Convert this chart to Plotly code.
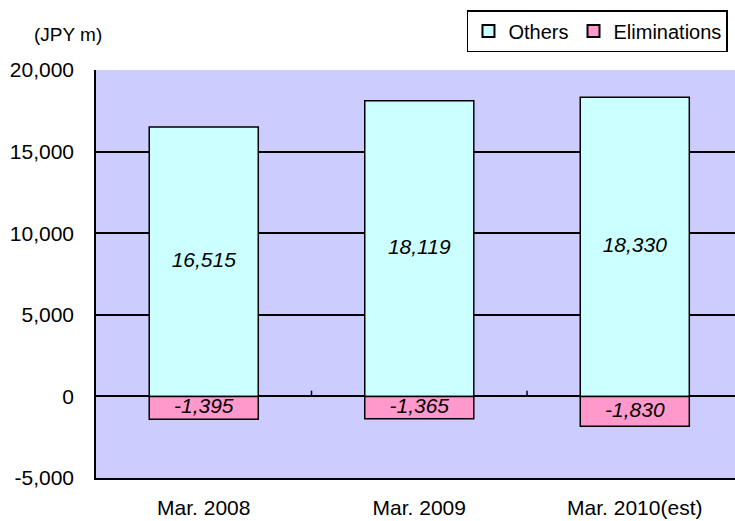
import plotly.graph_objects as go

categories = ["Mar. 2008", "Mar. 2009", "Mar. 2010(est)"]
others = [16515, 18119, 18330]
eliminations = [-1395, -1365, -1830]
y_ticks = [-5000, 0, 5000, 10000, 15000, 20000]
y_tick_labels = ["-5,000", "0", "5,000", "10,000", "15,000", "20,000"]

font_family = "Liberation Sans, Arial, sans-serif"
label_font = dict(family=font_family, size=21, color="black", style="italic")

fig = go.Figure()
fig.add_trace(go.Bar(
    x=categories, y=others, name="Others",
    marker=dict(color="#CCFFFF", line=dict(color="black", width=1.5)),
    width=0.506, hoverinfo="skip",
))
fig.add_trace(go.Bar(
    x=categories, y=eliminations, name="Eliminations",
    marker=dict(color="#FF99CC", line=dict(color="black", width=1.5)),
    width=0.506, hoverinfo="skip",
))

# value labels centred inside each bar segment
fig.add_trace(go.Scatter(
    x=categories + categories,
    y=[v / 2 for v in others] + [v / 2 for v in eliminations],
    text=[f"{v:,}" for v in others] + [f"{v:,}" for v in eliminations],
    mode="text", textposition="middle center", textfont=label_font,
    showlegend=False, hoverinfo="skip", cliponaxis=False,
))

# category separator ticks on the zero line
for xv in [0.5, 1.5]:
    fig.add_shape(type="line", xref="x", yref="y", x0=xv, x1=xv, y0=0, y1=350,
                  line=dict(color="black", width=1.5))

fig.add_annotation(text="(JPY m)", xref="paper", yref="paper", x=-0.10, y=1.088,
                   xanchor="left", yanchor="middle", showarrow=False,
                   font=dict(family=font_family, size=19, color="black"))

fig.update_layout(
    width=735, height=521,
    margin=dict(l=96, r=0, t=70, b=43),
    paper_bgcolor="white", plot_bgcolor="#CCCCFF",
    barmode="relative",
    font=dict(family=font_family, size=21, color="black"),
    showlegend=True,
    legend=dict(orientation="h", x=0.989, xanchor="right", y=1.147, yanchor="top",
                bordercolor="black", borderwidth=1.5, bgcolor="white",
                font=dict(family=font_family, size=20, color="black"),
                itemwidth=30, tracegroupgap=0, itemsizing="constant"),
    xaxis=dict(range=[-0.5, 2.465], showgrid=False, showline=True, linecolor="black",
               linewidth=1.5, ticks="outside", ticklen=10, tickcolor="rgba(0,0,0,0)",
               tickfont=dict(size=21), fixedrange=True),
    yaxis=dict(range=[-5000, 20000], tickvals=y_ticks, ticktext=y_tick_labels,
               showgrid=True, gridcolor="black", gridwidth=1.5, zeroline=True,
               zerolinecolor="black", zerolinewidth=1.5,
               showline=True, linecolor="black", linewidth=1.5,
               ticks="outside", ticklen=16, tickcolor="rgba(0,0,0,0)",
               tickfont=dict(size=21), fixedrange=True),
)

fig.write_html(
    "out.html",
    config={"displayModeBar": False},
    post_script="document.body.style.margin='0';document.body.style.overflow='hidden';",
)
